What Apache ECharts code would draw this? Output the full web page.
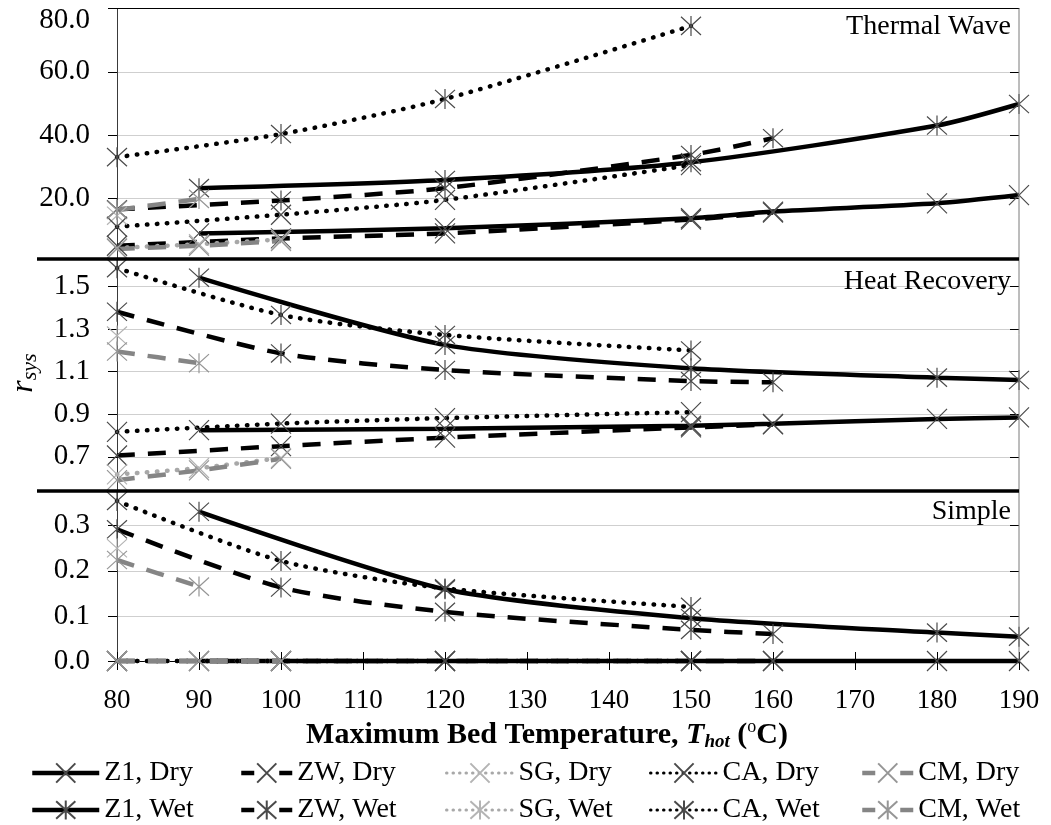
<!DOCTYPE html>
<html>
<head>
<meta charset="utf-8">
<script src="https://cdn.jsdelivr.net/npm/echarts@6/dist/echarts.min.js"></script>
<style>
  html, body { margin: 0; padding: 0; background: #fff; }
  #chart { width: 1051px; height: 825px; }
</style>
</head>
<body>
<div id="chart"></div>
<script>
// temperatures (x) for each material
const xZ1Dry = [90, 120, 150, 160, 180, 190];
const xZ1Wet = [90, 120, 150, 180, 190];
const xZW = [80, 100, 120, 150, 160];
const xCA = [80, 100, 120, 150];
const xSGDry = [80, 90, 100];
const xSGWet = [80];
const xCMDry = [80, 90, 100];
const xCMWet = [80, 90];

// Thermal Wave
const twZ1Dry = [8.9, 10.5, 13.7, 15.8, 18.4, 21.0];
const twZ1Wet = [23.2, 25.8, 31.4, 43.0, 49.8];
const twZWDry = [5.0, 7.3, 8.9, 13.3, 15.5];
const twZWWet = [16.5, 19.3, 23.2, 33.7, 39.0];
const twCADry = [11.0, 14.8, 19.5, 30.5];
const twCAWet = [33.0, 40.3, 51.4, 74.5];
const twSGDry = [4.3, 5.5, 7.0];
const twSGWet = [14.5];
const twCMDry = [4.0, 5.0, 6.5];
const twCMWet = [16.3, 19.8];

// Heat Recovery
const hrZ1Dry = [0.825, 0.832, 0.846, 0.855, 0.878, 0.885];
const hrZ1Wet = [1.542, 1.226, 1.116, 1.072, 1.061];
const hrZWDry = [0.706, 0.75, 0.79, 0.838, 0.852];
const hrZWWet = [1.382, 1.186, 1.108, 1.056, 1.05];
const hrCADry = [0.817, 0.856, 0.882, 0.91];
const hrCAWet = [1.587, 1.367, 1.273, 1.20];
const hrSGDry = [0.617, 0.647, 0.695];
const hrSGWet = [1.27];
const hrCMDry = [0.59, 0.636, 0.69];
const hrCMWet = [1.195, 1.14];

// Simple
const smZ1Dry = [0, 0, 0, 0, 0, 0];
const smZ1Wet = [0.331, 0.159, 0.095, 0.063, 0.054];
const smZWDry = [0, 0, 0, 0, 0];
const smZWWet = [0.292, 0.163, 0.109, 0.069, 0.06];
const smCADry = [0, 0, 0, 0];
const smCAWet = [0.355, 0.222, 0.161, 0.12];
const smSGDry = [0, 0, 0];
const smSGWet = [0.25];
const smCMDry = [0, 0, 0];
const smCMWet = [0.224, 0.165];

const twTicks = [20, 40, 60, 80];
const hrTicks = [0.7, 0.9, 1.1, 1.3, 1.5];
const smTicks = [0, 0.1, 0.2, 0.3];

const FONT = 'Liberation Serif';
const LEFT = 117, RIGHT = 1019;

// panel layout: pixel band and value range of each band
const panels = [
  { title: 'Thermal Wave', top: 8.5, bottom: 259, min: 0.8, max: 80, ticks: twTicks, titleY: 25,
    data: { Z1: [twZ1Dry, twZ1Wet], ZW: [twZWDry, twZWWet], SG: [twSGDry, twSGWet], CA: [twCADry, twCAWet], CM: [twCMDry, twCMWet] } },
  { title: 'Heat Recovery', top: 259, bottom: 491, min: 0.539, max: 1.630, ticks: hrTicks, titleY: 280,
    data: { Z1: [hrZ1Dry, hrZ1Wet], ZW: [hrZWDry, hrZWWet], SG: [hrSGDry, hrSGWet], CA: [hrCADry, hrCAWet], CM: [hrCMDry, hrCMWet] } },
  { title: 'Simple', top: 491, bottom: 661, min: 0, max: 0.377, ticks: smTicks, titleY: 510,
    data: { Z1: [smZ1Dry, smZ1Wet], ZW: [smZWDry, smZWWet], SG: [smSGDry, smSGWet], CA: [smCADry, smCAWet], CM: [smCMDry, smCMWet] } }
];

const xs = { Z1: [xZ1Dry, xZ1Wet], ZW: [xZW, xZW], SG: [xSGDry, xSGWet], CA: [xCA, xCA], CM: [xCMDry, xCMWet] };

const styles = {
  Z1: { color: '#000', type: 'solid', cap: 'butt', mark: '#4a4a4a' },
  ZW: { color: '#000', type: [18, 13], cap: 'butt', mark: '#4a4a4a' },
  SG: { color: '#a8a8a8', type: [0.5, 9.5], cap: 'round', mark: '#b4b4b4' },
  CA: { color: '#000', type: [0.5, 9.5], cap: 'round', mark: '#4a4a4a' },
  CM: { color: '#858585', type: [18, 13], cap: 'butt', mark: '#969696' }
};
const families = ['Z1', 'ZW', 'SG', 'CA', 'CM'];
const SYM_X = 'path://M0,0L20,20M20,0L0,20';
const SYM_AST = 'path://M0,0L20,20M20,0L0,20M10,-1L10,21';

const grids = [], xAxes = [], yAxes = [], series = [], titles = [];

panels.forEach((p, i) => {
  grids.push({ left: LEFT, width: RIGHT - LEFT, top: p.top, height: p.bottom - p.top });
  const isBottom = i === panels.length - 1;
  xAxes.push({
    gridIndex: i, type: 'value', min: 80, max: 190, interval: 10,
    position: i === 0 ? 'top' : 'bottom',
    show: i === 0 || isBottom,
    axisLine: { show: true, lineStyle: { color: '#000', width: 1 } },
    axisTick: { show: isBottom, length: 9, lineStyle: { color: '#000' } },
    axisLabel: { show: isBottom, fontFamily: FONT, fontSize: 27, color: '#000', margin: 26 },
    splitLine: { show: false },
    name: isBottom ? '{b|Maximum Bed Temperature, }{it|T}{sub|hot}{b| (}{sup|o}{b|C)}' : '',
    nameLocation: 'middle', nameGap: 57,
    nameTextStyle: {
      fontFamily: FONT, color: '#000', padding: [0, 42, 0, 0],
      rich: {
        b: { fontFamily: FONT, fontSize: 30, fontWeight: 'bold', color: '#000', lineHeight: 34 },
        it: { fontFamily: FONT, fontSize: 30, fontWeight: 'bold', fontStyle: 'italic', color: '#000', lineHeight: 34 },
        sub: { fontFamily: FONT, fontSize: 19, fontWeight: 'bold', fontStyle: 'italic', color: '#000', lineHeight: 18, verticalAlign: 'bottom' },
        sup: { fontFamily: FONT, fontSize: 18, color: '#000', lineHeight: 20, verticalAlign: 'top' }
      }
    }
  });
  // inside half of the crossing ticks
  xAxes.push({
    gridIndex: i, type: 'value', min: 80, max: 190, interval: 10,
    position: 'bottom', show: isBottom,
    axisLine: { show: false },
    axisTick: { show: true, inside: true, length: 9, lineStyle: { color: '#000' } },
    axisLabel: { show: false }, splitLine: { show: false }
  });
  const fmt = (v) => {
    const s = v.toFixed(1);
    return (i === 0 && v === 80) ? '{d|' + s + '}' : s;
  };
  yAxes.push({
    gridIndex: i, type: 'value', min: p.min, max: p.max,
    axisLine: { show: true, lineStyle: { color: '#3a3a3a', width: 1 } },
    axisTick: { show: true, length: 9, customValues: p.ticks, lineStyle: { color: '#000' } },
    axisLabel: {
      customValues: p.ticks, formatter: fmt, fontFamily: FONT, fontSize: 29, color: '#000', margin: 27,
      rich: { d: { fontFamily: FONT, fontSize: 29, color: '#000', padding: [23, 0, 0, 0] } }
    },
    splitLine: { show: true, lineStyle: { color: '#cfcfcf', width: 1 } }
  });
  yAxes.push({
    gridIndex: i, type: 'value', min: p.min, max: p.max,
    axisLine: { show: false },
    axisTick: { show: true, inside: true, length: 9, customValues: p.ticks, lineStyle: { color: '#000' } },
    axisLabel: { show: false }, splitLine: { show: false }
  });
  titles.push({
    text: p.title, right: 1051 - 1016, top: p.titleY - 17,
    textStyle: { fontFamily: FONT, fontSize: 28, fontWeight: 'normal', color: '#000' }
  });

  families.forEach((f) => {
    ['Dry', 'Wet'].forEach((kind, k) => {
      const st = styles[f];
      const xv = xs[f][k];
      const yv = p.data[f][k];
      series.push({
        type: 'line',
        name: f + ', ' + kind,
        xAxisIndex: i * 2, yAxisIndex: i * 2,
        data: xv.map((x, j) => [x, yv[j]]),
        smooth: 0.25,
        clip: false,
        symbol: kind === 'Dry' ? SYM_X : SYM_AST,
        symbolSize: 20,
        showAllSymbol: true,
        lineStyle: { color: st.color, width: 4.5, type: st.type, cap: st.cap },
        itemStyle: { color: 'rgba(0,0,0,0)', borderColor: st.mark, borderWidth: 1.2 },
        emphasis: { disabled: true },
        animation: false
      });
    });
  });
});

// one small vertical legend per material: Dry above Wet
const legendCfg = {
  Z1: { left: 30, w: 67, line: { width: 4.5 } },
  ZW: { left: 239, w: 51, line: { width: 4.5, type: [13, 25] } },
  SG: { left: 445, w: 67, line: { width: 3, type: [0.5, 6], cap: 'round' } },
  CA: { left: 649, w: 67, line: { width: 3, type: [0.5, 6], cap: 'round' } },
  CM: { left: 860, w: 51, line: { width: 4.5, type: [13, 25] } }
};
const legends = families.map((f) => ({
  orient: 'vertical', left: legendCfg[f].left, top: 759, height: 66, width: 200,
  itemWidth: legendCfg[f].w, itemHeight: 24, itemGap: 9, padding: 0,
  selectedMode: false,
  lineStyle: legendCfg[f].line,
  data: [f + ', Dry', f + ', Wet'],
  textStyle: { fontFamily: FONT, fontSize: 28, color: '#000', lineHeight: 24 }
}));

const chart = echarts.init(document.getElementById('chart'), null, { renderer: 'canvas' });
chart.setOption({
  animation: false,
  backgroundColor: '#fff',
  title: titles,
  grid: grids,
  xAxis: xAxes,
  yAxis: yAxes,
  legend: legends,
  series: series,
  graphic: [
    { type: 'line', shape: { x1: RIGHT, y1: 8.5, x2: RIGHT, y2: 661 }, style: { stroke: '#7a7a7a', lineWidth: 1 }, z: 10 },
    { type: 'line', shape: { x1: 37, y1: 259, x2: RIGHT, y2: 259 }, style: { stroke: '#000', lineWidth: 3.5 }, z: 10 },
    { type: 'line', shape: { x1: 37, y1: 491, x2: RIGHT, y2: 491 }, style: { stroke: '#000', lineWidth: 3.5 }, z: 10 },
    {
      type: 'text', x: 24, y: 373, rotation: Math.PI / 2, z: 10,
      style: {
        text: '{r|r}{s|sys}', align: 'center', verticalAlign: 'middle',
        rich: {
          r: { fontFamily: FONT, fontSize: 32, fontStyle: 'italic', fill: '#000', lineHeight: 34 },
          s: { fontFamily: FONT, fontSize: 22, fontStyle: 'italic', fill: '#000', lineHeight: 22, verticalAlign: 'bottom' }
        }
      }
    }
  ]
});
</script>
</body>
</html>
